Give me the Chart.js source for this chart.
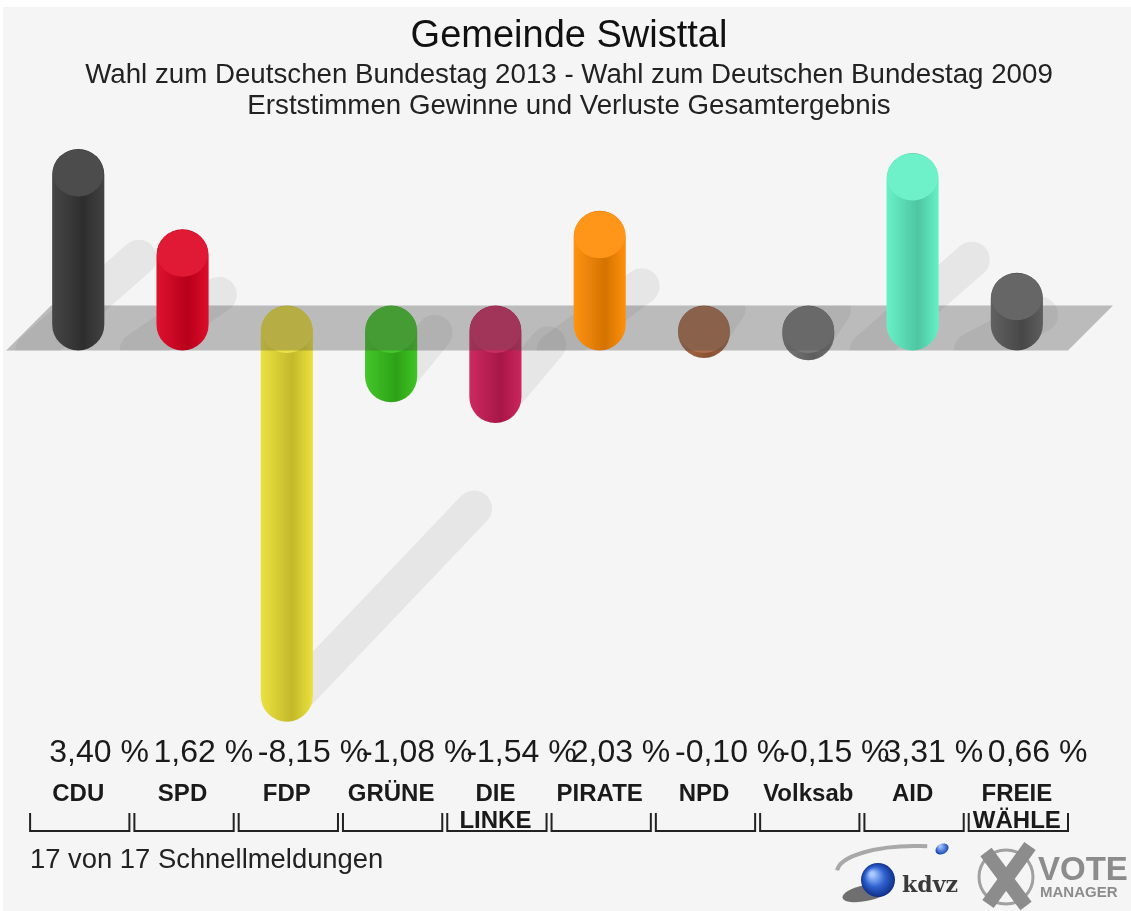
<!DOCTYPE html>
<html>
<head>
<meta charset="utf-8">
<title>Gemeinde Swisttal</title>
<script src="https://cdn.jsdelivr.net/npm/chart.js@4.4.0/dist/chart.umd.min.js"></script>
<style>
  html, body { margin: 0; padding: 0; background: #fff; }
  canvas { display: block; }
</style>
</head>
<body>
<canvas id="myChart" width="1131" height="911"></canvas>
<script>
var categories = ["CDU", "SPD", "FDP", "GRÜNE", ["DIE", "LINKE"], "PIRATE", "NPD", "Volksab", "AID", ["FREIE", "WÄHLE"]],
  values = [3.40, 1.62, -8.15, -1.08, -1.54, 2.03, -0.10, -0.15, 3.31, 0.66],
  colors = ["#383838", "#dc001f", "#ebdf33", "#36c21a", "#c91a55", "#ff8a00", "#a5623e", "#707070", "#5eefc3", "#555555"],
  footer = "17 von 17 Schnellmeldungen";

// half height of the grey floor band and the rounded end, in value units
var BAND = 0.497, CAP = 0.563;
var FONT = "'Liberation Sans', Arial, Helvetica, sans-serif";

Chart.defaults.font.family = FONT;

function shade(hex, f) {
  var n = parseInt(hex.slice(1), 16),
    rgb = [n >> 16, (n >> 8) & 255, n & 255].map(function(v) {
      return Math.round(f < 0 ? v * (1 + f) : v + (255 - v) * f);
    });
  return "rgb(" + rgb.join(",") + ")";
}

function barFill(c) {
  var chart = c.chart, base = colors[c.dataIndex];
  if (!chart.chartArea) return base;
  var x = chart.scales.x.getPixelForValue(c.dataIndex),
    g = chart.ctx.createLinearGradient(x - 26, 0, x + 26, 0);
  g.addColorStop(0, shade(base, 0.07));
  g.addColorStop(0.6, shade(base, -0.17));
  g.addColorStop(1, shade(base, 0.05));
  return g;
}

var posData = values.map(function(v) { return v >= 0 ? [-BAND, v + CAP] : null; }),
  negData = values.map(function(v) { return v < 0 ? [BAND, v - CAP] : null; });

function drawCaps(chart, meta, pos) {
  var c = chart.ctx;
  c.save();
  meta.data.forEach(function(bar, i) {
    if ((values[i] >= 0) !== pos) return;
    var top = pos ? bar.y : bar.base, w = bar.width / 2 - 0.5;
    c.beginPath();
    c.ellipse(bar.x, top + 24, w, 23.5, 0, 0, Math.PI * 2);
    c.fillStyle = shade(colors[i], pos ? 0.1 : 0.08);
    c.fill();
  });
  c.restore();
}

var sceneryPlugin = {
  id: "scenery",
  beforeDraw: function(chart) {
    var c = chart.ctx;
    c.save();
    c.fillStyle = "#f5f5f5";
    c.fillRect(3, 7, chart.width - 3, chart.height - 7);
    c.restore();
  },
  beforeDatasetsDraw: function(chart) {
    var c = chart.ctx, y = chart.scales.y,
      bandTop = y.getPixelForValue(BAND), bandBot = y.getPixelForValue(-BAND);
    c.save();
    c.strokeStyle = "rgba(0,0,0,0.06)";
    c.lineWidth = 36;
    c.lineCap = "round";
    // shadows of the rising bars, lying on the floor behind them
    c.save();
    c.beginPath();
    c.rect(0, 0, chart.width, bandBot);
    c.clip();
    chart.getDatasetMeta(0).data.forEach(function(bar, i) {
      if (values[i] < 0) return;
      var L = bar.base - bar.y;
      c.beginPath();
      c.moveTo(bar.x - 45, bandBot);
      c.lineTo(bar.x + 0.3 * L, bandBot - 0.46 * L);
      c.stroke();
    });
    c.restore();
    // shadows of the hanging bars
    c.save();
    c.beginPath();
    c.rect(0, bandTop, chart.width, chart.height);
    c.clip();
    chart.getDatasetMeta(1).data.forEach(function(bar, i) {
      if (values[i] >= 0) return;
      var L = bar.y - bar.base;
      c.beginPath();
      c.moveTo(bar.x + 5, bar.y - 22);
      c.lineTo(bar.x + 0.45 * L, bar.y - 26 - 0.45 * L);
      c.stroke();
    });
    c.restore();
    c.restore();
  },
  afterDatasetDraw: function(chart, args) {
    var c = chart.ctx, a = chart.chartArea, y = chart.scales.y,
      bandTop = y.getPixelForValue(BAND), bandBot = y.getPixelForValue(-BAND);
    if (args.index === 1) {
      drawCaps(chart, args.meta, false);
      c.save();
      c.beginPath();
      c.moveTo(a.left - 20, bandBot);
      c.lineTo(a.right - 1, bandBot);
      c.lineTo(a.right + 44, bandTop);
      c.lineTo(a.left + 25, bandTop);
      c.closePath();
      c.fillStyle = "rgba(70,70,70,0.33)";
      c.fill();
      c.restore();
    } else {
      drawCaps(chart, args.meta, true);
    }
  },
  afterDraw: function(chart) {
    var c = chart.ctx, xs = chart.scales.x, step = xs.width / categories.length;
    c.save();
    // value labels
    c.font = "32px " + FONT;
    c.fillStyle = "#1a1a1a";
    c.textAlign = "left";
    c.textBaseline = "alphabetic";
    values.forEach(function(v, i) {
      c.fillText(v.toFixed(2).replace(".", ",") + " %", xs.getPixelForValue(i) - 29, 762);
    });
    // brackets under the party names
    c.strokeStyle = "#222";
    c.lineWidth = 2;
    categories.forEach(function(cat, i) {
      var l = xs.left + i * step + 4, r = xs.left + (i + 1) * step - 1;
      c.beginPath();
      c.moveTo(l, 813);
      c.lineTo(l, 831);
      c.lineTo(r, 831);
      c.lineTo(r, 813);
      c.stroke();
    });
    // footer
    c.font = "27.4px " + FONT;
    c.fillStyle = "#222";
    c.fillText(footer, 30, 868);

    // kdvz logo
    c.beginPath();
    c.ellipse(915, 872, 78, 26, 0, Math.PI * 1.02, Math.PI * 1.55);
    c.strokeStyle = "#a8a8a8";
    c.lineWidth = 4;
    c.stroke();
    var g = c.createRadialGradient(940, 846, 1, 942, 848, 7);
    g.addColorStop(0, "#9fc0ff");
    g.addColorStop(1, "#1040b0");
    c.fillStyle = g;
    c.beginPath();
    c.ellipse(942, 849, 7, 5, -0.5, 0, Math.PI * 2);
    c.fill();
    c.fillStyle = "rgba(0,0,0,0.55)";
    c.beginPath();
    c.ellipse(866, 893, 24, 8, -0.2, 0, Math.PI * 2);
    c.fill();
    g = c.createRadialGradient(872, 874, 2, 878, 880, 18);
    g.addColorStop(0, "#a8c8ff");
    g.addColorStop(0.5, "#2f62d0");
    g.addColorStop(1, "#0c2a80");
    c.fillStyle = g;
    c.beginPath();
    c.arc(878, 880, 17, 0, Math.PI * 2);
    c.fill();
    c.fillStyle = "#3a3a3a";
    c.font = "bold 22px 'DejaVu Serif', 'Liberation Serif', serif";
    c.fillText("kdvz", 902, 892);

    // VOTE MANAGER logo
    c.strokeStyle = "#a0a0a0";
    c.lineWidth = 3;
    c.beginPath();
    c.arc(1006, 877, 27, 0, Math.PI * 2);
    c.stroke();
    c.strokeStyle = "#8c8c8c";
    c.lineWidth = 14;
    c.lineCap = "butt";
    c.beginPath();
    c.moveTo(986, 852);
    c.lineTo(1026, 906);
    c.moveTo(1030, 846);
    c.lineTo(988, 904);
    c.stroke();
    c.fillStyle = "#8c8c8c";
    c.font = "bold 33px " + FONT;
    c.fillText("VOTE", 1038, 880);
    c.font = "bold 15px " + FONT;
    c.fillText("MANAGER", 1040, 897);
    c.restore();
  }
};

var ctx = document.getElementById("myChart"),
  config = {
    type: "bar",
    data: {
      labels: categories,
      datasets: [
        {
          data: posData,
          order: 1,
          backgroundColor: barFill,
          borderWidth: 0,
          borderSkipped: false,
          borderRadius: 26,
          grouped: false,
          categoryPercentage: 1,
          barPercentage: 0.5
        },
        {
          data: negData,
          order: 2,
          backgroundColor: barFill,
          borderWidth: 0,
          borderSkipped: false,
          borderRadius: 26,
          grouped: false,
          categoryPercentage: 1,
          barPercentage: 0.5
        }
      ]
    },
    options: {
      responsive: false,
      animation: false,
      layout: { padding: { top: 0, left: 25, right: 18, bottom: 76 } },
      plugins: {
        legend: { display: false },
        tooltip: { enabled: false },
        title: {
          display: true,
          text: "Gemeinde Swisttal",
          color: "#111",
          font: { size: 38, weight: "normal", lineHeight: 1.2 },
          padding: { top: 14, bottom: 0 }
        },
        subtitle: {
          display: true,
          text: ["Wahl zum Deutschen Bundestag 2013 - Wahl zum Deutschen Bundestag 2009", "Erststimmen Gewinne und Verluste Gesamtergebnis"],
          color: "#222",
          font: { size: 27.7, lineHeight: 1.09 },
          padding: { top: 1, bottom: 10 }
        }
      },
      scales: {
        x: {
          offset: true,
          grid: { display: false, drawTicks: false },
          border: { display: false },
          afterFit: function(scale) { scale.height = 105.5; },
          ticks: {
            autoSkip: false,
            maxRotation: 0,
            padding: 51,
            color: "#1a1a1a",
            font: { size: 24, weight: "bold", lineHeight: 1.125 }
          }
        },
        y: {
          position: "right",
          min: -8.885,
          max: 4.36,
          grid: { display: false, drawTicks: false },
          border: { display: false },
          ticks: { display: false },
          afterFit: function(scale) { scale.width = 44; }
        }
      }
    },
    plugins: [sceneryPlugin]
  };

myChart = new Chart(ctx, config);
</script>
</body>
</html>
